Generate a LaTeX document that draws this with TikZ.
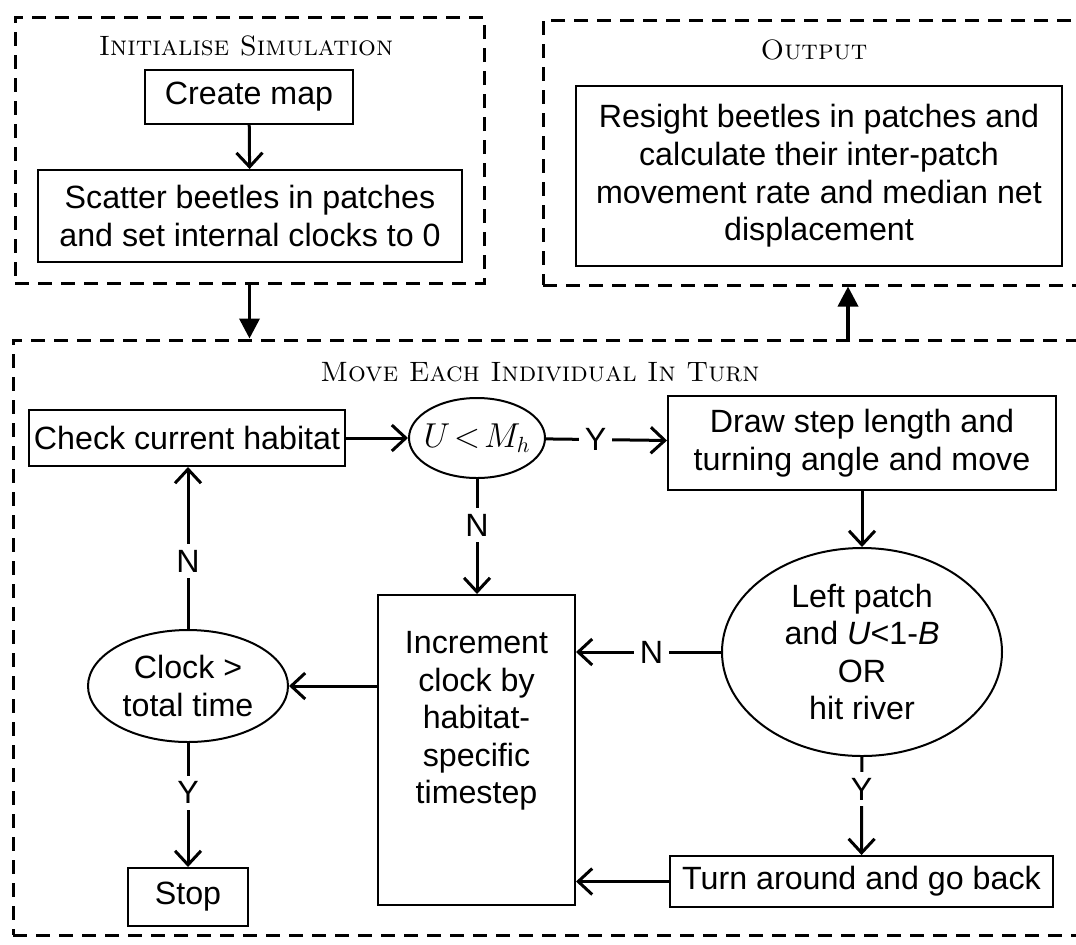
\documentclass[tikz,border=0pt]{standalone}
\usepackage{fontspec}
\setsansfont{Liberation Sans}
\usetikzlibrary{shapes.geometric,arrows.meta,positioning}

\begin{document}
\begin{tikzpicture}[
  x=0.5pt, y=-0.5pt,
  every node/.style={font=\sffamily\fontsize{16.1}{18.8}\selectfont},
  box/.style={rectangle, draw, line width=1pt, inner sep=2pt, align=center},
  dec/.style={ellipse, draw, line width=1pt, inner sep=0pt, align=center},
  grp/.style={rectangle, draw, line width=1.5pt, dash pattern=on 7pt off 4.5pt},
  ttl/.style={font=\rmfamily\scshape\fontsize{14}{16}\selectfont},
  arr/.style={-{Straight Barb[length=7pt,width=13pt]}, line width=1.5pt},
  fillarr/.style={-{Triangle[length=10pt,width=10pt]}, line width=1.8pt},
  lbl/.style={fill=white, inner sep=3pt},
]
\useasboundingbox (0,0) rectangle (1076,944);
\clip (0,0) rectangle (1076,944);

% dashed stages
\node[grp, minimum width=234.5pt, minimum height=133pt] (init) at (249.5,150) {};
\node[grp, minimum width=278.5pt, minimum height=132.5pt] (out) at (821.5,152.5) {};
\node[grp, minimum width=543.5pt, minimum height=297.5pt] (move) at (556.5,637.5) {};

\node[ttl] (initttl) at (246,46) {Initialise Simulation};
\node[ttl] (outttl) at (814,50) {Output};
\node[ttl] (movettl) at (540,372) {Move Each Individual In Turn};

% initialise
\node[box, minimum width=104pt, minimum height=27pt] (map) at (249,97) {Create map};
\node[box, minimum width=212pt, minimum height=46pt] (scatter) at (250,216) {Scatter beetles in patches\\and set internal clocks to 0};

% output
\node[box, minimum width=243pt, minimum height=90pt] (resight) at (819,176) {Resight beetles in patches and\\calculate their inter-patch\\movement rate and median net\\displacement};

% move loop
\node[box, minimum width=158pt, minimum height=28pt] (check) at (187,438) {Check current habitat};
\node[dec, inner xsep=-4pt, minimum width=68pt, minimum height=40pt] (um) at (477,438) {$U\!<\!M_h$};
\node[box, minimum width=194pt, minimum height=47pt] (drawstep) at (862,443) {Draw step length and\\turning angle and move};
\node[dec, minimum width=140pt, minimum height=104pt] (left) at (862,652) {Left patch\\and \textit{U}<1-\textit{B}\\OR\\hit river};
\node[box, minimum width=191.5pt, minimum height=25.5pt] (turn) at (861.5,881.5) {Turn around and go back};
\node[box, minimum width=98.5pt, minimum height=155pt] (inc) at (476.5,750) {};
\node[align=center] (inctxt) at (476.5,721) {Increment\\clock by\\habitat-\\specific\\timestep};
\node[dec, minimum width=100pt, minimum height=56pt] (clk) at (188,686) {Clock >\\total time};
\node[box, minimum width=60pt, minimum height=29pt] (stop) at (188,897) {Stop};

\draw[arr] (map) -- (scatter);
\draw[arr] (check) -- (um);
\draw[arr] (um) -- node[lbl, pos=0.41] {Y} (drawstep);
\draw[arr] (um.south) -- node[lbl, pos=0.4] {N} (um.south |- inc.north);
\draw[arr] (drawstep) -- (left);
\draw[arr] (left.west) -- node[lbl, pos=0.48] {N} (left -| inc.east);
\draw[arr] (left) -- node[lbl, pos=0.33] {Y} (turn);
\draw[arr] (turn) -- (turn -| inc.east);
\draw[arr] (clk -| inc.west) -- (clk);
\draw[arr] (clk.north) -- node[lbl, pos=0.42] {N} (clk.north |- check.south);
\draw[arr] (clk) -- node[lbl, pos=0.4] {Y} (stop);

% between stages
\coordinate (moveout) at (848,340);
\draw[fillarr] (init.south) -- (init.south |- move.north);
\draw[fillarr] (moveout) -- (moveout |- out.south);

\end{tikzpicture}
\end{document}
